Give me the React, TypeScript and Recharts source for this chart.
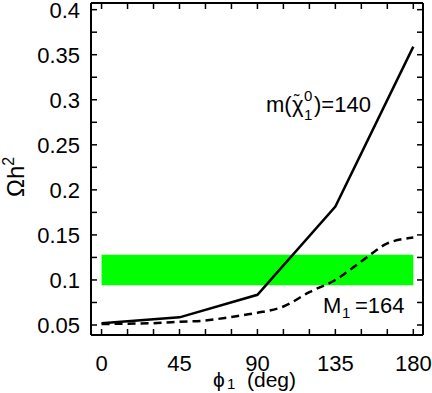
import { Line, LineChart, ReferenceArea, XAxis, YAxis } from "recharts";

const font = "'Liberation Sans', Arial, Helvetica, sans-serif";

// m(chi) = 140 curve, read at the 5 computed angles
const phiCoarse = [0, 45, 90, 135, 180];
const omegaChi140 = [0.052, 0.0585, 0.0835, 0.1815, 0.359];

// M1 = 164 curve (dashed), read every 15 deg off the picture
const phiFine = [0, 15, 30, 45, 60, 75, 90, 105, 120, 135, 150, 165, 180];
const omegaM164 = [0.051, 0.0515, 0.052, 0.0535, 0.055, 0.059, 0.0635, 0.0705, 0.0865, 0.1, 0.1205, 0.1405, 0.147];

// WMAP band
const bandLow = 0.094;
const bandHigh = 0.128;

const xTicks = [0, 15, 30, 45, 60, 75, 90, 105, 120, 135, 150, 165, 180];
const xLabelled = [0, 45, 90, 135, 180];
const yTicks = [0.05, 0.075, 0.1, 0.125, 0.15, 0.175, 0.2, 0.225, 0.25, 0.275, 0.3, 0.325, 0.35, 0.375, 0.4];
const yLabelled = [0.05, 0.1, 0.15, 0.2, 0.25, 0.3, 0.35, 0.4];

const xDomain: [number, number] = [-6.1, 185.6];
const yDomain: [number, number] = [0.0389, 0.4074];

const coarseData = phiCoarse.map((phi, i) => ({ phi, omega: omegaChi140[i] }));
const fineData = phiFine.map((phi, i) => ({ phi, omega: omegaM164[i] }));

const FS = 22;
const SUB = 15;
const TICK = 6;
const axisLine = { stroke: "#000", strokeWidth: 2 };
const hasLabel = (list: number[], v: number) => list.some((l) => Math.abs(l - v) < 1e-9);

// ticks point into the frame, labels sit outside
function BottomTick(p: any) {
  const v = p.payload.value;
  return (
    <g>
      <line x1={p.x} x2={p.x} y1={p.y} y2={p.y - TICK} stroke="#000" strokeWidth={1.5} />
      {hasLabel(xLabelled, v) && (
        <text x={p.x} y={p.y + 36} textAnchor="middle" fontSize={FS} fontFamily={font} fill="#000">{v}</text>
      )}
    </g>
  );
}
function TopTick(p: any) {
  return <line x1={p.x} x2={p.x} y1={p.y} y2={p.y + TICK} stroke="#000" strokeWidth={1.5} />;
}
function LeftTick(p: any) {
  const v = p.payload.value;
  return (
    <g>
      <line x1={p.x} x2={p.x + TICK} y1={p.y} y2={p.y} stroke="#000" strokeWidth={1.5} />
      {hasLabel(yLabelled, v) && (
        <text x={p.x - 11} y={p.y + 8} textAnchor="end" fontSize={FS} fontFamily={font} fill="#000">{String(v)}</text>
      )}
    </g>
  );
}
function RightTick(p: any) {
  return <line x1={p.x} x2={p.x - TICK} y1={p.y} y2={p.y} stroke="#000" strokeWidth={1.5} />;
}

function Texts() {
  const t = { fontFamily: font, fill: "#000" };
  return (
    <g>
      <text x={266} y={112} fontSize={FS} {...t}>m(</text>
      <text x={292} y={112} fontSize={FS} {...t}>χ</text>
      <text x={294} y={106} fontSize={16} {...t}>˜</text>
      <text x={304} y={101} fontSize={SUB} {...t}>0</text>
      <text x={304} y={120} fontSize={SUB} {...t}>1</text>
      <text x={314} y={112} fontSize={FS} {...t}>)=140</text>

      <text x={323} y={313} fontSize={FS} {...t}>M</text>
      <text x={342} y={318} fontSize={SUB} {...t}>1</text>
      <text x={355} y={313} fontSize={FS} {...t}>=164</text>

      <text x={213} y={387} fontSize={21} {...t}>ϕ</text>
      <text x={227} y={389} fontSize={SUB} {...t}>1</text>
      <text x={247} y={387} fontSize={21} {...t}>(deg)</text>

      <text transform="translate(24,197) rotate(-90)" fontSize={24} {...t}>
        Ωh<tspan fontSize={16} dy={-10}>2</tspan>
      </text>
    </g>
  );
}

export default function App() {
  return (
    <div style={{ position: "absolute", left: 0, top: 0, background: "#fff" }}>
      <LineChart width={432} height={393} margin={{ top: 2, right: 8, bottom: 0, left: 0 }}>
        <XAxis xAxisId="b" type="number" dataKey="phi" domain={xDomain} allowDataOverflow ticks={xTicks}
          interval={0} height={58} tickSize={0} tickMargin={0} tickLine={false} axisLine={axisLine}
          tick={<BottomTick />} />
        <XAxis xAxisId="t" orientation="top" type="number" dataKey="phi" domain={xDomain} allowDataOverflow
          ticks={xTicks} interval={0} height={1} tickSize={0} tickMargin={0} tickLine={false} axisLine={axisLine}
          tick={<TopTick />} />
        <YAxis yAxisId="l" type="number" domain={yDomain} allowDataOverflow ticks={yTicks} interval={0}
          width={91} tickSize={0} tickMargin={0} tickLine={false} axisLine={axisLine} tick={<LeftTick />} />
        <YAxis yAxisId="r" orientation="right" type="number" domain={yDomain} allowDataOverflow ticks={yTicks}
          interval={0} width={1} tickSize={0} tickMargin={0} tickLine={false} axisLine={axisLine}
          tick={<RightTick />} />

        <ReferenceArea xAxisId="b" yAxisId="l" x1={0} x2={180} y1={bandLow} y2={bandHigh}
          fill="#00ff00" fillOpacity={1} stroke="none" />

        <Line xAxisId="b" yAxisId="l" data={coarseData} dataKey="omega" type="linear" stroke="#000"
          strokeWidth={2.5} dot={false} isAnimationActive={false} />
        <Line xAxisId="t" yAxisId="r" data={fineData} dataKey="omega" type="monotone" stroke="#000"
          strokeWidth={2.5} strokeDasharray="8 5" dot={false} isAnimationActive={false} />

        <Texts />
      </LineChart>
    </div>
  );
}
